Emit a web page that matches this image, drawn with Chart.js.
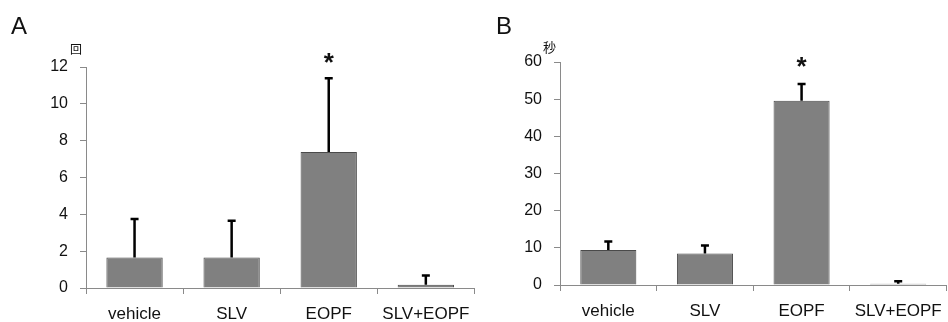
<!DOCTYPE html>
<html><head><meta charset="utf-8">
<script src="https://cdn.jsdelivr.net/npm/chart.js@4/dist/chart.umd.min.js"></script>
<style>
html,body{margin:0;padding:0;background:#fff;width:948px;height:322px;overflow:hidden;}
#wrap{position:relative;width:948px;height:322px;overflow:hidden;font-family:"Liberation Sans",Arial,sans-serif;}
canvas{position:absolute;top:0;}
.lbl{position:absolute;color:#111;line-height:1;}
</style></head>
<body>
<div id="wrap">
<canvas id="cA" width="480" height="322" style="left:0"></canvas>
<canvas id="cB" width="472" height="322" style="left:480px"></canvas>
<div class="lbl" style="left:11px;top:14px;font-size:24px;">A</div>
<div class="lbl" style="left:496px;top:14px;font-size:24px;">B</div>
<div class="lbl" style="left:70px;top:43px;font-size:12px;font-family:'Noto Sans CJK JP';">回</div>
<div class="lbl" style="left:543px;top:40px;font-size:13px;font-family:'Noto Sans CJK JP';">秒</div>
</div>
<script>
const categories = ["vehicle", "SLV", "EOPF", "SLV+EOPF"];
const countValues = [1.65, 1.65, 7.39, 0.18];
const countErrors = [2.1, 2.0, 4.0, 0.5];
const timeValues = [9.4, 8.5, 49.6, 0.35];
const timeErrors = [2.3, 2.1, 4.5, 0.65];
const significance = ["", "", "*", ""];
const countTicks = [0, 2, 4, 6, 8, 10, 12];
const timeTicks = [0, 10, 20, 30, 40, 50, 60];

const errPlugin = {
  id: 'errbars',
  afterDatasetsDraw(chart, args, opts) {
    const ctx = chart.ctx;
    const meta = chart.getDatasetMeta(0);
    const ys = chart.scales.y;
    const vals = chart.data.datasets[0].data;
    ctx.save();
    ctx.strokeStyle = '#000';
    ctx.lineWidth = 2.5;
    meta.data.forEach((bar, i) => {
      const x = bar.x;
      const y0 = ys.getPixelForValue(vals[i]);
      const y1 = ys.getPixelForValue(vals[i] + opts.errors[i]);
      ctx.beginPath();
      ctx.moveTo(x, y0);
      ctx.lineTo(x, y1);
      ctx.moveTo(x - 4, y1);
      ctx.lineTo(x + 4, y1);
      ctx.stroke();
      if (opts.sig[i]) {
        ctx.fillStyle = '#111';
        ctx.font = 'bold 26px "Liberation Sans", Arial, sans-serif';
        ctx.textAlign = 'center';
        ctx.textBaseline = 'middle';
        ctx.fillText(opts.sig[i], x, y1 - opts.gap + 4);
      }
    });
    ctx.restore();
  }
};

function makeChart(id, values, errors, ticks, yWidth, padTop, xHeight, padRight, gap, xPad) {
  const maxV = ticks[ticks.length - 1];
  return new Chart(document.getElementById(id), {
    type: 'bar',
    data: {
      labels: categories,
      datasets: [{
        data: values,
        backgroundColor: '#808080',
        borderColor: '#4a4a4a',
        borderWidth: 1,
        barPercentage: 0.58,
        categoryPercentage: 1.0
      }]
    },
    options: {
      responsive: false,
      animation: false,
      layout: { padding: { top: padTop, right: padRight, left: 0, bottom: 0 } },
      plugins: {
        legend: { display: false },
        tooltip: { enabled: false },
        errbars: { errors: errors, sig: significance, gap: gap }
      },
      scales: {
        x: {
          grid: { display: true, drawOnChartArea: false, drawTicks: true, tickLength: 6, color: '#8a8a8a', offset: true },
          border: { display: true, color: '#8a8a8a', width: 1 },
          ticks: { color: '#111', font: { size: 17, family: '"Liberation Sans", Arial, sans-serif' }, padding: xPad, maxRotation: 0, autoSkip: false },
          afterFit: s => { s.height = xHeight; }
        },
        y: {
          min: 0, max: maxV,
          afterBuildTicks: s => { s.ticks = ticks.map(v => ({ value: v })); },
          grid: { display: true, drawOnChartArea: false, drawTicks: true, tickLength: 6, color: '#8a8a8a' },
          border: { display: true, color: '#8a8a8a', width: 1 },
          ticks: { color: '#111', font: { size: 16, family: '"Liberation Sans", Arial, sans-serif' }, padding: 12 },
          afterFit: s => { s.width = yWidth; }
        }
      }
    },
    plugins: [errPlugin]
  });
}

makeChart('cA', countValues, countErrors, countTicks, 86, 67, 34, 5, 18, 10);
makeChart('cB', timeValues, timeErrors, timeTicks, 80, 62, 37, 2, 20, 10);
</script>
</body></html>
